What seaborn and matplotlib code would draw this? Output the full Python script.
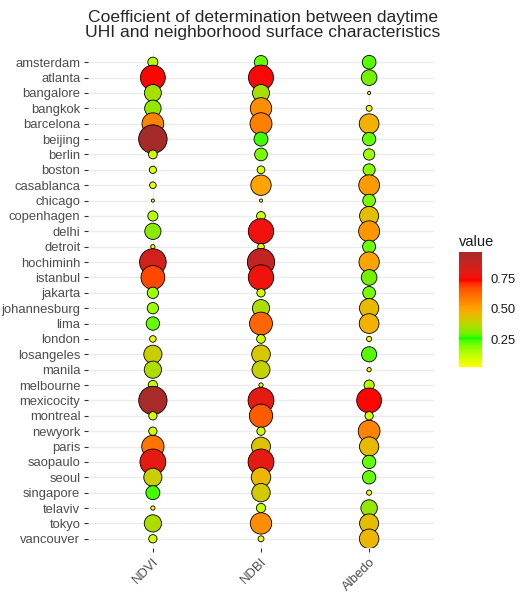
import numpy as np
import pandas as pd
import matplotlib
matplotlib.use("Agg")
import matplotlib.pyplot as plt
from matplotlib.colors import ListedColormap, Normalize, to_rgb
import matplotlib.cm as cm
import seaborn as sns

# data
cities = ['amsterdam', 'atlanta', 'bangalore', 'bangkok', 'barcelona', 'beijing',
          'berlin', 'boston', 'casablanca', 'chicago', 'copenhagen', 'delhi',
          'detroit', 'hochiminh', 'istanbul', 'jakarta', 'johannesburg', 'lima',
          'london', 'losangeles', 'manila', 'melbourne', 'mexicocity', 'montreal',
          'newyork', 'paris', 'saopaulo', 'seoul', 'singapore', 'telaviv',
          'tokyo', 'vancouver']
variables = ['NDVI', 'NDBI', 'Albedo']

ndvi = [0.13, 0.74, 0.35, 0.33, 0.57, 0.97, 0.10, 0.07, 0.06, 0.02, 0.13, 0.32,
        0.03, 0.85, 0.68, 0.16, 0.16, 0.22, 0.06, 0.40, 0.36, 0.11, 0.96, 0.09,
        0.09, 0.60, 0.80, 0.40, 0.24, 0.03, 0.36, 0.09]
ndbi = [0.22, 0.75, 0.35, 0.55, 0.58, 0.24, 0.20, 0.08, 0.50, 0.02, 0.10, 0.77,
        0.06, 0.89, 0.77, 0.09, 0.36, 0.63, 0.10, 0.42, 0.39, 0.03, 0.80, 0.65,
        0.09, 0.43, 0.80, 0.46, 0.41, 0.11, 0.55, 0.05]
albedo = [0.23, 0.30, 0.02, 0.05, 0.47, 0.22, 0.16, 0.18, 0.52, 0.20, 0.44, 0.53,
          0.21, 0.50, 0.30, 0.20, 0.45, 0.47, 0.04, 0.28, 0.03, 0.13, 0.74, 0.09,
          0.57, 0.45, 0.22, 0.22, 0.04, 0.33, 0.44, 0.46]

gradient_colors = ['#ffff00', '#00ff00', '#ffa500', '#ff0000', '#a52a2a']


# gradient interpolated in CIE Lab, like ggplot's scale_fill_gradientn
def srgb_to_lab(rgb):
    rgb = np.asarray(rgb, float)
    lin = np.where(rgb <= 0.04045, rgb / 12.92, ((rgb + 0.055) / 1.055) ** 2.4)
    m = np.array([[0.4124, 0.3576, 0.1805],
                  [0.2126, 0.7152, 0.0722],
                  [0.0193, 0.1192, 0.9505]])
    xyz = lin @ m.T / np.array([0.95047, 1.0, 1.08883])
    f = np.where(xyz > 0.008856, np.cbrt(xyz), 7.787 * xyz + 16 / 116)
    return np.stack([116 * f[..., 1] - 16,
                     500 * (f[..., 0] - f[..., 1]),
                     200 * (f[..., 1] - f[..., 2])], axis=-1)


def lab_to_srgb(lab):
    lab = np.asarray(lab, float)
    fy = (lab[..., 0] + 16) / 116
    fx = fy + lab[..., 1] / 500
    fz = fy - lab[..., 2] / 200
    f = np.stack([fx, fy, fz], axis=-1)
    xyz = np.where(f ** 3 > 0.008856, f ** 3, (f - 16 / 116) / 7.787)
    xyz = xyz * np.array([0.95047, 1.0, 1.08883])
    minv = np.array([[3.2406, -1.5372, -0.4986],
                     [-0.9689, 1.8758, 0.0415],
                     [0.0557, -0.2040, 1.0570]])
    lin = xyz @ minv.T
    lin = np.clip(lin, 0, 1)
    rgb = np.where(lin <= 0.0031308, 12.92 * lin, 1.055 * lin ** (1 / 2.4) - 0.055)
    return np.clip(rgb, 0, 1)


anchor_lab = srgb_to_lab([to_rgb(c) for c in gradient_colors])
pos = np.linspace(0, 1, len(gradient_colors))
t = np.linspace(0, 1, 256)
lab = np.stack([np.interp(t, pos, anchor_lab[:, k]) for k in range(3)], axis=-1)
cmap = ListedColormap(lab_to_srgb(lab))

# long format, city-major so later cities are drawn on top
rows = []
for i, c in enumerate(cities):
    for v, vals in zip(variables, [ndvi, ndbi, albedo]):
        rows.append({'city': c, 'variable': v, 'value': vals[i]})
df = pd.DataFrame(rows)

vmin, vmax = df['value'].min(), df['value'].max()
norm = Normalize(vmin, vmax)

sns.set_theme(style='white')
plt.rcParams['font.family'] = ['Liberation Sans', 'DejaVu Sans']

W, H = 527, 596
fig = plt.figure(figsize=(W / 100, H / 100), dpi=100)
ax = fig.add_axes([88 / W, 1 - 548 / H, (434 - 88) / W, (548 - 53) / H])

sns.scatterplot(data=df, x='variable', y='city', hue='value', size='value',
                palette=cmap, hue_norm=(vmin, vmax),
                sizes=(5, 420), size_norm=(vmin, vmax),
                edgecolor='black', linewidth=0.6, legend=False, ax=ax,
                zorder=3)

ax.set_xlim(-0.6, len(variables) - 0.4)
ax.set_ylim(len(cities) - 0.4, -0.6)
ax.set_xlabel('')
ax.set_ylabel('')
for s in ax.spines.values():
    s.set_visible(False)
ax.grid(True, color='#ebebeb', linewidth=1.0, zorder=0)
ax.set_axisbelow(True)
ax.tick_params(axis='both', which='major', length=3, width=0.8, color='#333333',
               labelsize=9.4, labelcolor='#4d4d4d', pad=2.5,
               left=True, bottom=True)
plt.setp(ax.get_xticklabels(), rotation=45, ha='right', va='top',
         rotation_mode='anchor')

fig.suptitle('Coefficient of determination between daytime\n'
             'UHI and neighborhood surface characteristics',
             x=263 / W, y=1 - 10 / H, fontsize=12.6, va='top', linespacing=1.0)

# colour bar legend
cax = fig.add_axes([459 / W, 1 - 367 / H, 23 / W, 115 / H])
cb = fig.colorbar(cm.ScalarMappable(norm=norm, cmap=cmap), cax=cax)
cb.outline.set_visible(False)
cb.set_ticks([0.25, 0.50, 0.75])
cb.set_ticklabels(['0.25', '0.50', '0.75'])
cax.tick_params(axis='y', direction='in', length=4.5, width=1, color='white',
                left=True, right=True, labelsize=9.4, labelcolor='#1a1a1a',
                pad=6)
fig.text(459 / W, 1 - 242 / H, 'value', fontsize=10.5, va='center', ha='left',
         color='#1a1a1a')

fig.savefig('out.png', dpi=100, facecolor='white')
